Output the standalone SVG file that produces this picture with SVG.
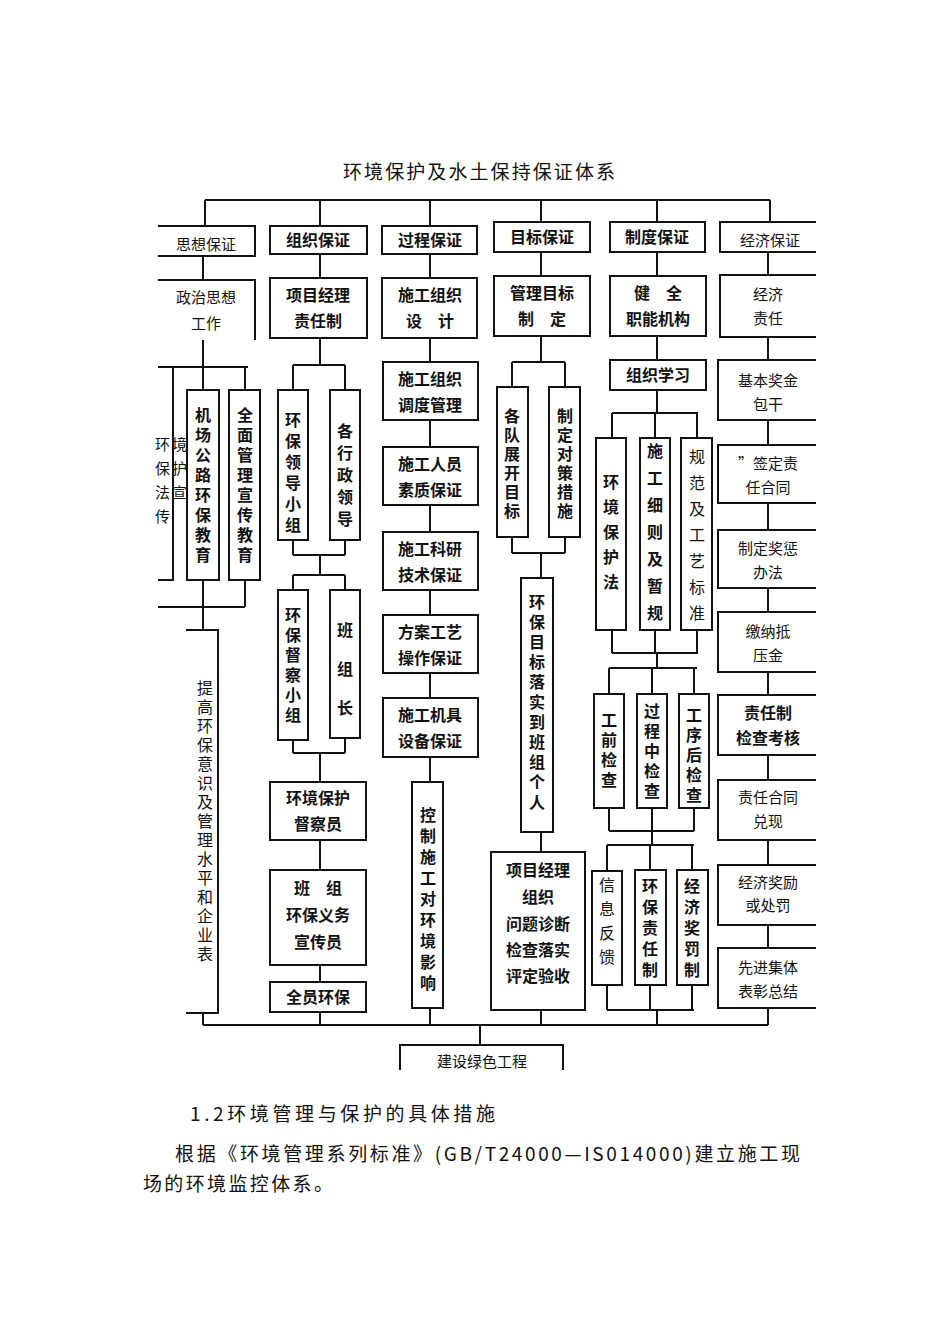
<svg xmlns="http://www.w3.org/2000/svg" width="950" height="1342" viewBox="0 0 950 1342">
<style>
.b{fill:#fff;stroke:#111;stroke-width:2}
.o{fill:none;stroke:#111;stroke-width:2}
.c{fill:none;stroke:#111;stroke-width:2}
text{font-family:"Noto Sans CJK SC",sans-serif;fill:#111;font-size:16px}
.h{font-weight:bold;text-anchor:middle}
.l{text-anchor:middle;font-size:15px}
.v{writing-mode:vertical-rl;font-weight:bold}
</style>
<rect width="950" height="1342" fill="#fff"/>
<text x="343" y="179" textLength="272" style="font-size:19px">环境保护及水土保持保证体系</text>
<g id="connectors">
<path class="c" d="M205 200H770M205 200V227M320 200V226M430 200V226M541 200V222M657 200V222M770 200V222"/>
<path class="c" d="M203 256V280M320 254V278M430 254V278M541 252V276M657 252V276M768 252V275"/>
<path class="c" d="M203 340V367M158 367H248M203 367V390M245 367V390M203 580V607M245 580V607M158 607H245M203 607V630M203 1013V1025"/>
<path class="c" d="M320 338V365M293 365H345M293 365V390M345 365V390M293 540V555M345 540V555M293 555H345M320 555V575M293 575H345M293 575V590M345 575V590M293 740V753M345 738V753M293 753H345M320 753V782M320 840V870M320 965V982M320 1012V1025"/>
<path class="c" d="M430 338V362M430 420V447M430 505V532M430 590V615M430 673V698M430 757V782M430 1008V1025"/>
<path class="c" d="M541 336V362M512 362H565M512 362V387M565 362V387M512 537V553M565 537V553M512 553H565M541 553V578M541 832V852M541 1010V1025"/>
<path class="c" d="M657 336V360M657 390V413M612 413H698M612 413V438M655 413V438M697 413V438M612 630V653M655 630V653M697 630V653M612 653H698M657 653V668M609 668H697M609 668V694M652 668V694M694 668V694M609 808V831M652 808V831M694 808V831M609 831H694M652 831V845M607 845H694M607 845V871M650 845V870M692 845V870M607 985V1010M650 985V1010M692 985V1010M607 1010H694M657 1010V1025"/>
<path class="c" d="M768 337V360M768 420V445M768 503V530M768 588V612M768 672V695M768 755V780M768 840V865M768 925V948M768 1008V1025"/>
<path class="c" d="M203 1025H768M480 1025V1045"/>
</g>
<g id="n-sixiang"><path class="o" d="M158 226H255V256H158"/><text class="l" x="206" y="250">思想保证</text></g>
<g id="n-zuzhi"><rect class="b" x="270" y="226" width="97" height="28"/><text class="h" x="318" y="246">组织保证</text></g>
<g id="n-guocheng"><rect class="b" x="382" y="226" width="95" height="28"/><text class="h" x="430" y="246">过程保证</text></g>
<g id="n-mubiao"><rect class="b" x="494" y="222" width="96" height="30"/><text class="h" x="542" y="243">目标保证</text></g>
<g id="n-zhidu"><rect class="b" x="610" y="222" width="95" height="30"/><text class="h" x="657" y="243">制度保证</text></g>
<g id="n-jingji"><path class="o" d="M816 222H720V252H816"/><text class="l" x="770" y="246">经济保证</text></g>

<g id="n-zhengzhi"><path class="o" d="M158 280H255V340"/><text class="l" x="206" y="303">政治思想</text><text class="l" x="206" y="329">工作</text></g>
<g id="n-xmjl"><rect class="b" x="270" y="278" width="97" height="60"/><text class="h" x="318" y="301">项目经理</text><text class="h" x="318" y="327">责任制</text></g>
<g id="n-sgzzsj"><rect class="b" x="382" y="278" width="95" height="60"/><text class="h" x="430" y="301">施工组织</text><text class="h" x="430" y="327">设　计</text></g>
<g id="n-glmb"><rect class="b" x="494" y="276" width="96" height="60"/><text class="h" x="542" y="299">管理目标</text><text class="h" x="542" y="325">制　定</text></g>
<g id="n-jq"><rect class="b" x="610" y="276" width="96" height="60"/><text class="h" x="658" y="299">健　全</text><text class="h" x="658" y="325">职能机构</text></g>
<g id="n-jjzr"><path class="o" d="M816 275H720V337H816"/><text class="l" x="768" y="300">经济</text><text class="l" x="768" y="324">责任</text></g>

<g id="n-hjbhf"><path class="o" d="M158 367H173V580H158"/><text x="155" y="450" style="font-size:15px">环</text><text x="155" y="474" style="font-size:15px">保</text><text x="155" y="498" style="font-size:15px">法</text><text x="155" y="522" style="font-size:15px">传</text><text x="172" y="450" style="font-size:15px">境</text><text x="172" y="474" style="font-size:15px">护</text><text x="172" y="498" style="font-size:15px">宣</text></g>
<g id="n-jcgl"><rect class="b" x="187" y="390" width="32" height="190"/><text class="v" x="203" y="407" style="letter-spacing:4px">机场公路环保教育</text></g>
<g id="n-qmgl"><rect class="b" x="229" y="390" width="31" height="190"/><text class="v" x="245" y="407" style="letter-spacing:4px">全面管理宣传教育</text></g>
<g id="n-tgyz"><path class="o" d="M186 630H218V1013H186"/><text class="v" x="205" y="680" style="letter-spacing:3px;font-weight:normal">提高环保意识及管理水平和企业表</text></g>

<g id="n-hbldxz"><rect class="b" x="278" y="390" width="30" height="150"/><text class="v" x="293" y="412" style="letter-spacing:5px">环保领导小组</text></g>
<g id="n-gxzld"><rect class="b" x="330" y="390" width="30" height="150"/><text class="v" x="345" y="423" style="letter-spacing:6px">各行政领导</text></g>
<g id="n-hbdcxz"><rect class="b" x="278" y="590" width="30" height="150"/><text class="v" x="293" y="607" style="letter-spacing:4px">环保督察小组</text></g>
<g id="n-bzz"><rect class="b" x="330" y="590" width="30" height="148"/><text class="v" x="345" y="622" style="letter-spacing:23px">班组长</text></g>
<g id="n-hjbhdcy"><rect class="b" x="270" y="782" width="96" height="58"/><text class="h" x="318" y="804">环境保护</text><text class="h" x="318" y="830">督察员</text></g>
<g id="n-bzhb"><rect class="b" x="270" y="870" width="96" height="95"/><text class="h" x="318" y="894">班　组</text><text class="h" x="318" y="921">环保义务</text><text class="h" x="318" y="948">宣传员</text></g>
<g id="n-qyhb"><rect class="b" x="270" y="982" width="96" height="30"/><text class="h" x="318" y="1003">全员环保</text></g>

<g id="n-ddgl"><rect class="b" x="383" y="362" width="95" height="58"/><text class="h" x="430" y="385">施工组织</text><text class="h" x="430" y="411">调度管理</text></g>
<g id="n-ryzz"><rect class="b" x="383" y="447" width="95" height="58"/><text class="h" x="430" y="470">施工人员</text><text class="h" x="430" y="496">素质保证</text></g>
<g id="n-kyjs"><rect class="b" x="383" y="532" width="95" height="58"/><text class="h" x="430" y="555">施工科研</text><text class="h" x="430" y="581">技术保证</text></g>
<g id="n-fagy"><rect class="b" x="383" y="615" width="95" height="58"/><text class="h" x="430" y="638">方案工艺</text><text class="h" x="430" y="664">操作保证</text></g>
<g id="n-jjsb"><rect class="b" x="383" y="698" width="95" height="59"/><text class="h" x="430" y="721">施工机具</text><text class="h" x="430" y="747">设备保证</text></g>
<g id="n-kzsg"><rect class="b" x="412" y="782" width="31" height="226"/><text class="v" x="428" y="807" style="letter-spacing:5px">控制施工对环境影响</text></g>

<g id="n-gdzk"><rect class="b" x="497" y="387" width="31" height="150"/><text class="v" x="512" y="408" style="letter-spacing:3px">各队展开目标</text></g>
<g id="n-zddc"><rect class="b" x="549" y="387" width="31" height="150"/><text class="v" x="565" y="408" style="letter-spacing:3px">制定对策措施</text></g>
<g id="n-hbmblS"><rect class="b" x="521" y="578" width="32" height="254"/><text class="v" x="537" y="594" style="letter-spacing:4px">环保目标落实到班组个人</text></g>
<g id="n-xmjlzz"><rect class="b" x="491" y="852" width="94" height="158"/><text class="h" x="538" y="876">项目经理</text><text class="h" x="538" y="903">组织</text><text class="h" x="538" y="930">问题诊断</text><text class="h" x="538" y="956">检查落实</text><text class="h" x="538" y="982">评定验收</text></g>

<g id="n-zzxx"><rect class="b" x="610" y="360" width="96" height="30"/><text class="h" x="658" y="381">组织学习</text></g>
<g id="n-hjbhf2"><rect class="b" x="596" y="438" width="30" height="192"/><text class="v" x="611" y="474" style="letter-spacing:9px">环境保护法</text></g>
<g id="n-sgxz"><rect class="b" x="640" y="438" width="30" height="192"/><text class="v" x="655" y="443" style="letter-spacing:11px">施工细则及暂规</text></g>
<g id="n-gfgy"><rect class="b" x="681" y="438" width="31" height="192"/><text class="v" x="697" y="449" style="letter-spacing:10px;font-weight:normal">规范及工艺标准</text></g>
<g id="n-gqjc"><rect class="b" x="594" y="694" width="30" height="114"/><text class="v" x="609" y="712" style="letter-spacing:4px">工前检查</text></g>
<g id="n-gczjc"><rect class="b" x="637" y="694" width="30" height="114"/><text class="v" x="652" y="703" style="letter-spacing:4px">过程中检查</text></g>
<g id="n-gxhjc"><rect class="b" x="679" y="694" width="30" height="114"/><text class="v" x="694" y="707" style="letter-spacing:4px">工序后检查</text></g>
<g id="n-xxfk"><rect class="b" x="592" y="871" width="30" height="114"/><text class="v" x="607" y="877" style="letter-spacing:8px;font-weight:normal">信息反馈</text></g>
<g id="n-hbzrz"><rect class="b" x="635" y="870" width="31" height="115"/><text class="v" x="650" y="878" style="letter-spacing:5px">环保责任制</text></g>
<g id="n-jjjfz"><rect class="b" x="677" y="870" width="31" height="115"/><text class="v" x="692" y="878" style="letter-spacing:5px">经济奖罚制</text></g>

<g id="n-jbjj"><path class="o" d="M816 360H718V420H816"/><text class="l" x="768" y="386">基本奖金</text><text class="l" x="768" y="410">包干</text></g>
<g id="n-qdzr"><path class="o" d="M816 445H718V503H816"/><text class="l" x="768" y="469">”签定责</text><text class="l" x="768" y="493">任合同</text></g>
<g id="n-zdjc"><path class="o" d="M816 530H718V588H816"/><text class="l" x="768" y="554">制定奖惩</text><text class="l" x="768" y="578">办法</text></g>
<g id="n-jnd"><path class="o" d="M816 612H718V672H816"/><text class="l" x="768" y="637">缴纳抵</text><text class="l" x="768" y="661">压金</text></g>
<g id="n-zrzjc"><path class="o" d="M816 695H718V755H816"/><text class="h" x="768" y="719">责任制</text><text class="h" x="768" y="744">检查考核</text></g>
<g id="n-zrht"><path class="o" d="M816 780H718V840H816"/><text class="l" x="768" y="803">责任合同</text><text class="l" x="768" y="827">兑现</text></g>
<g id="n-jjjl"><path class="o" d="M816 865H718V925H816"/><text class="l" x="768" y="888">经济奖励</text><text class="l" x="768" y="911">或处罚</text></g>
<g id="n-xjjt"><path class="o" d="M816 948H718V1008H816"/><text class="l" x="768" y="973">先进集体</text><text class="l" x="768" y="997">表彰总结</text></g>

<g id="n-jslsgc"><path class="o" d="M400 1070V1045H563V1070"/><text class="l" x="482" y="1067">建设绿色工程</text></g>

<text x="190" y="1121" textLength="305" style="font-size:19px">1.2环境管理与保护的具体措施</text>
<text x="175" y="1161" textLength="625" style="font-size:19px">根据《环境管理系列标准》(GB/T24000—IS014000)建立施工现</text>
<text x="143" y="1191" textLength="190" style="font-size:19px">场的环境监控体系。</text>
</svg>
